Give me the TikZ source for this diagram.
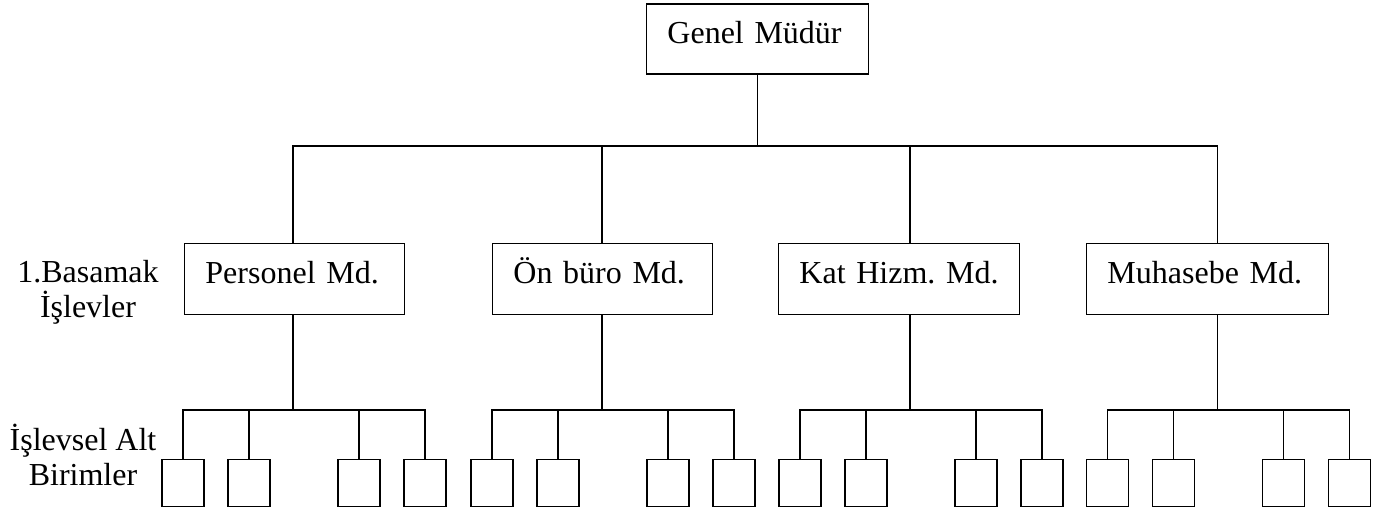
\documentclass[tikz,border=0pt]{standalone}
\usepackage{fontspec}
\setmainfont{Liberation Serif}
\frenchspacing
\begin{document}
\begin{tikzpicture}[x=1pt,y=-1pt,line width=1.9pt,
  font=\fontsize{32}{35}\selectfont,
  mgr/.style={draw, anchor=north west, inner xsep=21pt, inner ysep=0pt,
    align=left, text width=#1, text height=40.5pt, text depth=30.5pt},
  unit/.style={draw, anchor=north, inner sep=0pt, minimum width=42pt, minimum height=47pt},
  lvl/.style={align=center, anchor=base, inner sep=0pt}]
\useasboundingbox (0,0) rectangle (1391,516);

% head of the organisation
\node[mgr=180pt, text height=40pt, text depth=30pt] (gm) at (645.5,3) {Genel Müdür};

% first-level departments
\node[mgr=178pt] (l1) at (183.5,242.5) {\mbox{Personel Md.}};
\node[mgr=178pt] (l2) at (491.5,242.5) {\mbox{Ön büro Md.}};
\node[mgr=199pt] (l3) at (777.5,242.5) {\mbox{Kat Hizm. Md.}};
\node[mgr=200pt] (l4) at (1085.5,242.5) {\mbox{Muhasebe Md.}};

% level captions (anchored on the baseline of the last line)
\node[lvl] (cap1) at (88,317) {1.Basamak\\İşlevler};
\node[lvl] (cap2) at (83,485) {İşlevsel Alt\\Birimler};

% upper bus
\coordinate (t1) at (293,146);
\coordinate (t2) at (602,146);
\coordinate (t3) at (910,146);
\coordinate (t4) at (1217.5,146);
\draw (gm.south) -- (gm.south |- t1);
\draw (l1.north -| t1) -- (t1) -- (t4) -- (l4.north -| t4);
\draw (t2) -- (l2.north -| t2);
\draw (t3) -- (l3.north -| t3);

% functional sub-units under each department
\foreach \i/\c in {1/293,2/602,3/910,4/1217.5}{
  \coordinate (u\i) at (\c,410);
  \foreach \j/\o in {1/-110,2/-44,3/66,4/132}{
    \node[unit] (s\i\j) at (\c+\o,458.5) {};
  }
  \draw (l\i.south -| u\i) -- (u\i);
  \draw (s\i1.north) -- (s\i1.north |- u\i) -- (s\i4.north |- u\i) -- (s\i4.north);
  \draw (s\i2.north |- u\i) -- (s\i2.north);
  \draw (s\i3.north |- u\i) -- (s\i3.north);
}
\end{tikzpicture}
\end{document}
